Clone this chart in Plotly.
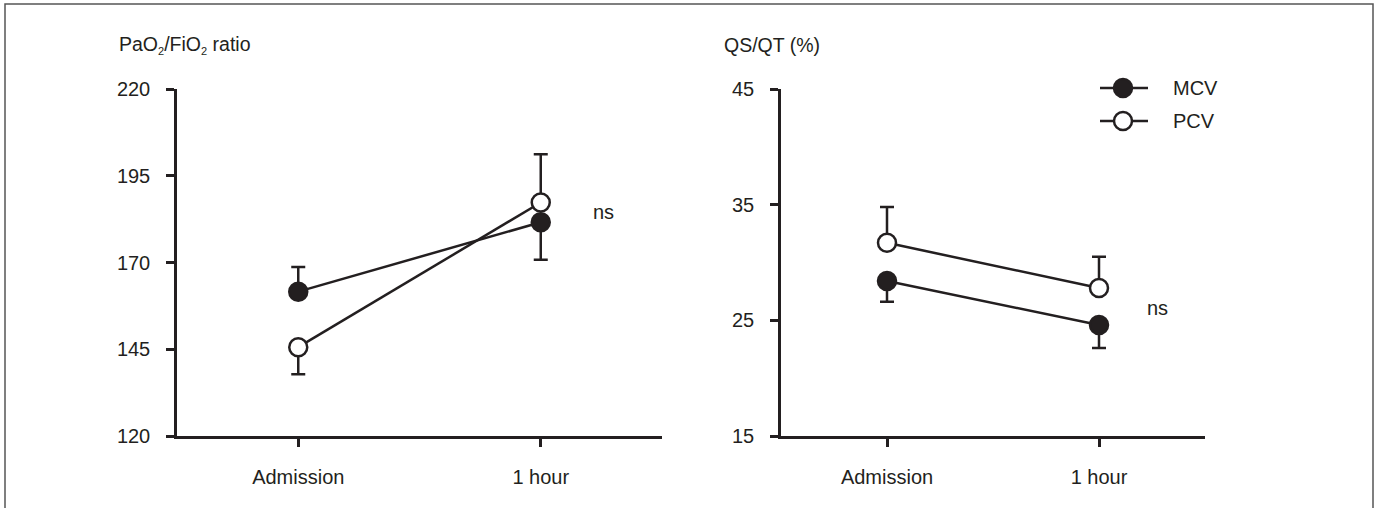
import plotly.graph_objects as go

# ---- data ----
categories = ["Admission", "1 hour"]
pf_mcv = [161.6, 181.6]
pf_mcv_err_up = [7.1, 0]
pf_mcv_err_down = [0, 10.8]
pf_pcv = [145.6, 187.3]
pf_pcv_err_up = [0, 13.9]
pf_pcv_err_down = [7.8, 0]

qs_mcv = [28.4, 24.6]
qs_mcv_err_up = [0, 0]
qs_mcv_err_down = [1.8, 2.0]
qs_pcv = [31.7, 27.8]
qs_pcv_err_up = [3.1, 2.7]
qs_pcv_err_down = [0, 0]

pf_ticks = [120, 145, 170, 195, 220]
qs_ticks = [15, 25, 35, 45]
series_names = ["MCV", "PCV"]

# ---- styling ----
W, H = 1378, 508
INK = "#231f20"
FONT = "Liberation Sans, Arial, sans-serif"
FS = 20

def px(x):
    return x / W

def py(y):
    return 1 - y / H

xpos = list(range(len(categories)))

fig = go.Figure()

def add_series(y, up, down, filled, xa, ya, name):
    fig.add_trace(go.Scatter(
        x=xpos, y=y, mode="lines+markers", name=name, showlegend=False,
        xaxis=xa, yaxis=ya,
        line=dict(color=INK, width=2.5),
        marker=dict(symbol="circle", size=18,
                    color=INK if filled else "white",
                    line=dict(color=INK, width=2.5)),
        error_y=dict(type="data", symmetric=False, array=up, arrayminus=down,
                     color=INK, thickness=2.5, width=7),
    ))

add_series(pf_mcv, pf_mcv_err_up, pf_mcv_err_down, True, "x", "y", series_names[0])
add_series(pf_pcv, pf_pcv_err_up, pf_pcv_err_down, False, "x", "y", series_names[1])
add_series(qs_mcv, qs_mcv_err_up, qs_mcv_err_down, True, "x2", "y2", series_names[0])
add_series(qs_pcv, qs_pcv_err_up, qs_pcv_err_down, False, "x2", "y2", series_names[1])

ydom = [py(436), py(89)]
common_x = dict(range=[-0.5, 1.5], tickvals=xpos, ticktext=categories,
                showline=True, linecolor=INK, linewidth=2.5,
                ticks="outside", ticklen=8, tickwidth=2.5, tickcolor=INK,
                showgrid=False, zeroline=False, ticklabelstandoff=13,
                automargin=False, fixedrange=True,
                tickfont=dict(family=FONT, size=FS, color=INK))
common_y = dict(showline=True, linecolor=INK, linewidth=2.5,
                ticks="outside", ticklen=8, tickwidth=2.5, tickcolor=INK,
                showgrid=False, zeroline=False, ticklabelstandoff=12,
                automargin=False, fixedrange=True,
                tickfont=dict(family=FONT, size=FS, color=INK))

fig.update_layout(
    width=W, height=H, autosize=False,
    margin=dict(l=0, r=0, t=0, b=0, pad=0, autoexpand=False),
    paper_bgcolor="white", plot_bgcolor="white",
    showlegend=False,
    font=dict(family=FONT, size=FS, color=INK),
    xaxis=dict(domain=[px(177), px(662)], anchor="y", **common_x),
    yaxis=dict(domain=ydom, anchor="x", range=[120, 220], tickvals=pf_ticks, **common_y),
    xaxis2=dict(domain=[px(781), px(1205)], anchor="y2", **common_x),
    yaxis2=dict(domain=ydom, anchor="x2", range=[15, 45], tickvals=qs_ticks, **common_y),
)

SUB = "<sub><span style='font-size:11px'>2</span></sub>"
annotations = [
    dict(text="PaO" + SUB + "/FiO" + SUB + " ratio", x=px(117), y=py(45),
         xref="paper", yref="paper", xanchor="left", yanchor="middle", showarrow=False,
         font=dict(size=19.5)),
    dict(text="QS/QT (%)", x=px(722), y=py(45),
         xref="paper", yref="paper", xanchor="left", yanchor="middle", showarrow=False,
         font=dict(size=19.5)),
    dict(text="ns", x=1.26, y=184.6, xref="x", yref="y",
         xanchor="center", yanchor="middle", showarrow=False),
    dict(text="ns", x=1.278, y=26.05, xref="x2", yref="y2",
         xanchor="center", yanchor="middle", showarrow=False),
]

shapes = [
    # outer frame
    dict(type="rect", xref="paper", yref="paper", x0=px(5), x1=px(1373),
         y0=-0.05, y1=py(4), line=dict(color="#555555", width=1.5)),
]

# manual legend
legend_rows = [(series_names[0], 88, True), (series_names[1], 121, False)]
for name, yy, filled in legend_rows:
    shapes.append(dict(type="line", xref="paper", yref="paper",
                       x0=px(1100), x1=px(1148), y0=py(yy), y1=py(yy),
                       line=dict(color=INK, width=2.5)))
    r = 9
    shapes.append(dict(type="circle", xref="paper", yref="paper",
                       x0=px(1123 - r), x1=px(1123 + r), y0=py(yy + r), y1=py(yy - r),
                       fillcolor=INK if filled else "white",
                       line=dict(color=INK, width=2.5)))
    annotations.append(dict(text=name, x=px(1171), y=py(yy), xref="paper", yref="paper",
                            xanchor="left", yanchor="middle", showarrow=False))

fig.update_layout(annotations=annotations, shapes=shapes)

fig.write_html("out.html", config={"displayModeBar": False},
               post_script="document.body.style.margin='0';")
